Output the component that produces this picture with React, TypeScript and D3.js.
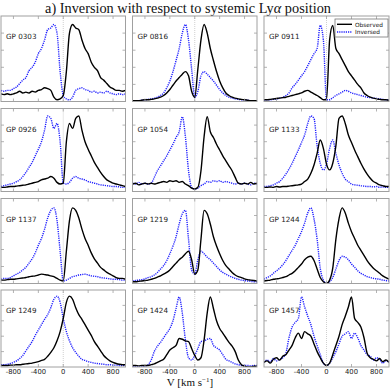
import React, { useEffect, useRef } from 'react';
import * as d3 from 'd3';

// velocity grid (km/s) shared by all profiles
const VELOCITY = [
  -1000, -950, -900, -850, -800, -750, -700, -650, -600, -550, -500, -450, -400, -350,
  -300, -250, -200, -150, -100, -50, 0, 50, 100, 150, 200, 250, 300, 350, 400, 450,
  500, 550, 600, 650, 700, 750, 800, 850, 900, 950, 1000,
];

const NAMES = [
  'GP 0303', 'GP 0816', 'GP 0911',
  'GP 0926', 'GP 1054', 'GP 1133',
  'GP 1137', 'GP 1219', 'GP 1244',
  'GP 1249', 'GP 1424', 'GP 1457',
];

// observed Lya profiles, normalised flux
const GP0303 = [0.09, 0.08, 0.09, 0.08, 0.09, 0.10, 0.12, 0.10, 0.11, 0.10, 0.12, 0.11, 0.13, 0.14, 0.16, 0.15, 0.13, 0.05, 0.02, 0.03, 0.07, 0.35, 0.80, 0.90, 0.86, 0.84, 0.72, 0.62, 0.56, 0.46, 0.40, 0.36, 0.28, 0.25, 0.21, 0.17, 0.15, 0.13, 0.13, 0.12, 0.13];
const GP0816 = [0.01, 0.01, 0.01, 0.015, 0.02, 0.02, 0.025, 0.03, 0.04, 0.05, 0.07, 0.10, 0.14, 0.19, 0.24, 0.28, 0.32, 0.35, 0.30, 0.12, 0.05, 0.38, 0.72, 0.90, 0.80, 0.62, 0.48, 0.35, 0.24, 0.16, 0.10, 0.07, 0.05, 0.04, 0.03, 0.025, 0.02, 0.015, 0.01, 0.01, 0.01];
const GP0911 = [0.02, 0.02, 0.025, 0.03, 0.035, 0.04, 0.045, 0.05, 0.06, 0.07, 0.08, 0.09, 0.10, 0.12, 0.13, 0.11, 0.09, 0.07, 0.045, 0.02, 0.02, 0.72, 0.89, 0.62, 0.56, 0.49, 0.42, 0.35, 0.30, 0.25, 0.20, 0.16, 0.10, 0.07, 0.05, 0.04, 0.03, 0.025, 0.02, 0.02, 0.015];
const GP0926 = [0.05, 0.05, 0.055, 0.06, 0.06, 0.065, 0.07, 0.075, 0.08, 0.09, 0.10, 0.11, 0.12, 0.14, 0.15, 0.16, 0.18, 0.16, 0.11, 0.09, 0.10, 0.60, 0.82, 0.76, 0.88, 0.91, 0.74, 0.60, 0.51, 0.43, 0.35, 0.29, 0.23, 0.18, 0.14, 0.12, 0.10, 0.09, 0.08, 0.07, 0.06];
const GP1054 = [0.09, 0.10, 0.08, 0.09, 0.10, 0.09, 0.10, 0.09, 0.10, 0.11, 0.12, 0.11, 0.13, 0.12, 0.13, 0.11, 0.12, 0.09, 0.07, 0.04, 0.03, 0.05, 0.25, 0.66, 0.90, 0.72, 0.65, 0.57, 0.50, 0.43, 0.37, 0.31, 0.25, 0.17, 0.10, 0.09, 0.10, 0.09, 0.11, 0.09, 0.10];
const GP1133 = [0.05, 0.05, 0.055, 0.05, 0.06, 0.055, 0.06, 0.06, 0.065, 0.07, 0.075, 0.08, 0.09, 0.12, 0.15, 0.22, 0.32, 0.46, 0.62, 0.52, 0.33, 0.26, 0.34, 0.55, 0.88, 0.91, 0.82, 0.68, 0.59, 0.50, 0.42, 0.34, 0.27, 0.21, 0.16, 0.12, 0.10, 0.08, 0.07, 0.06, 0.06];
const GP1137 = [0.04, 0.04, 0.045, 0.05, 0.05, 0.055, 0.06, 0.065, 0.07, 0.08, 0.085, 0.09, 0.10, 0.11, 0.105, 0.10, 0.09, 0.08, 0.06, 0.04, 0.03, 0.38, 0.74, 0.89, 0.86, 0.77, 0.64, 0.53, 0.45, 0.36, 0.29, 0.24, 0.19, 0.16, 0.13, 0.11, 0.09, 0.07, 0.06, 0.06, 0.05];
const GP1219 = [0.02, 0.02, 0.025, 0.03, 0.035, 0.04, 0.05, 0.06, 0.075, 0.09, 0.11, 0.13, 0.16, 0.20, 0.24, 0.28, 0.31, 0.35, 0.38, 0.28, 0.11, 0.16, 0.52, 0.86, 0.82, 0.70, 0.55, 0.44, 0.35, 0.27, 0.21, 0.17, 0.13, 0.10, 0.08, 0.07, 0.055, 0.045, 0.04, 0.035, 0.03];
const GP1244 = [0.03, 0.035, 0.04, 0.05, 0.055, 0.06, 0.07, 0.08, 0.10, 0.12, 0.15, 0.19, 0.23, 0.28, 0.31, 0.32, 0.27, 0.17, 0.07, 0.02, 0.0, 0.04, 0.18, 0.52, 0.76, 0.89, 0.83, 0.71, 0.61, 0.53, 0.45, 0.39, 0.33, 0.27, 0.22, 0.18, 0.15, 0.12, 0.09, 0.07, 0.05];
const GP1249 = [0.02, 0.02, 0.02, 0.025, 0.025, 0.03, 0.03, 0.035, 0.04, 0.045, 0.05, 0.06, 0.07, 0.085, 0.10, 0.14, 0.19, 0.25, 0.34, 0.46, 0.63, 0.84, 0.92, 0.88, 0.77, 0.68, 0.62, 0.55, 0.48, 0.41, 0.33, 0.27, 0.21, 0.15, 0.11, 0.08, 0.06, 0.045, 0.035, 0.03, 0.03];
const GP1424 = [0.02, 0.02, 0.015, 0.02, 0.02, 0.02, 0.03, 0.04, 0.06, 0.08, 0.10, 0.16, 0.22, 0.25, 0.28, 0.37, 0.36, 0.34, 0.33, 0.24, 0.15, 0.09, 0.12, 0.35, 0.70, 0.91, 0.76, 0.60, 0.50, 0.44, 0.38, 0.32, 0.27, 0.20, 0.09, 0.03, 0.01, 0.0, 0.0, 0.01, 0.01];
const GP1457 = [0.06, 0.08, 0.05, 0.10, 0.12, 0.09, 0.14, 0.16, 0.22, 0.28, 0.38, 0.44, 0.37, 0.46, 0.43, 0.40, 0.30, 0.20, 0.12, 0.05, 0.02, 0.05, 0.16, 0.28, 0.40, 0.55, 0.66, 0.78, 0.91, 0.63, 0.58, 0.52, 0.38, 0.18, 0.12, 0.10, 0.08, 0.11, 0.07, 0.09, 0.06];

const PROFILES = [
  GP0303, GP0816, GP0911,
  GP0926, GP1054, GP1133,
  GP1137, GP1219, GP1244,
  GP1249, GP1424, GP1457,
];

const X_TICKS = [-800, -400, 0, 400, 800];
const Y_TICKS = [0.2, 0.4, 0.6, 0.8];

// panel boxes (px)
const COLS = [[1, 125.5], [132.5, 257], [264, 389]];
const ROWS = [[16, 101.5], [108.5, 191.5], [198.5, 283.5], [290, 367]];

const FRAME = '#a0a0a0';
const BLUE = '#1f1fff';

function App() {
  const ref = useRef(null);

  useEffect(() => {
    const svg = d3.select(ref.current);
    svg.selectAll('*').remove();

    svg.append('rect').attr('width', 390).attr('height', 390).attr('fill', '#fff');

    const title = svg.append('text')
      .attr('x', 188).attr('y', 12.5)
      .attr('text-anchor', 'middle')
      .attr('font-family', 'Liberation Serif, serif')
      .attr('font-size', 14.3)
      .attr('fill', '#111');
    title.append('tspan').text('a) Inversion with respect to systemic Ly');
    title.append('tspan').attr('font-style', 'italic').text('α');
    title.append('tspan').text(' position');

    const line = d3.line()
      .x(d => d[0])
      .y(d => d[1])
      .curve(d3.curveMonotoneX);

    PROFILES.forEach((flux, i) => {
      const [x0, x1] = COLS[i % 3];
      const [y0, y1] = ROWS[Math.floor(i / 3)];
      const x = d3.scaleLinear().domain([-1000, 1000]).range([x0, x1]);
      const y = d3.scaleLinear().domain([0, 1]).range([y1, y0]);
      const g = svg.append('g');

      const clipId = 'clip' + i;
      g.append('clipPath').attr('id', clipId)
        .append('rect').attr('x', x0).attr('y', y0).attr('width', x1 - x0).attr('height', y1 - y0);

      // systemic zero line
      g.append('line')
        .attr('x1', x(0)).attr('x2', x(0)).attr('y1', y0).attr('y2', y1)
        .attr('stroke', '#cfcfcf').attr('stroke-width', 1).attr('stroke-dasharray', '1,1');

      const observed = VELOCITY.map((v, k) => [x(v), y(flux[k])]);
      const inversed = VELOCITY.map((v, k) => [x(-v), y(flux[k])]).reverse();

      g.append('path')
        .attr('d', line(inversed))
        .attr('clip-path', `url(#${clipId})`)
        .attr('fill', 'none').attr('stroke', BLUE)
        .attr('stroke-width', 1.4).attr('stroke-dasharray', '1.2,1');

      g.append('path')
        .attr('d', line(observed))
        .attr('clip-path', `url(#${clipId})`)
        .attr('fill', 'none').attr('stroke', '#000')
        .attr('stroke-width', 1.4);

      // frame + inward ticks
      g.append('rect')
        .attr('x', x0).attr('y', y0).attr('width', x1 - x0).attr('height', y1 - y0)
        .attr('fill', 'none').attr('stroke', FRAME).attr('stroke-width', 1);

      X_TICKS.forEach(t => {
        g.append('line').attr('x1', x(t)).attr('x2', x(t)).attr('y1', y1).attr('y2', y1 - 3)
          .attr('stroke', FRAME).attr('stroke-width', 0.8);
        g.append('line').attr('x1', x(t)).attr('x2', x(t)).attr('y1', y0).attr('y2', y0 + 3)
          .attr('stroke', FRAME).attr('stroke-width', 0.8);
      });
      Y_TICKS.forEach(t => {
        g.append('line').attr('x1', x0).attr('x2', x0 + 3).attr('y1', y(t)).attr('y2', y(t))
          .attr('stroke', FRAME).attr('stroke-width', 0.8);
        g.append('line').attr('x1', x1).attr('x2', x1 - 3).attr('y1', y(t)).attr('y2', y(t))
          .attr('stroke', FRAME).attr('stroke-width', 0.8);
      });

      g.append('text')
        .attr('x', x0 + 5).attr('y', y0 + 23)
        .attr('font-family', 'DejaVu Sans, sans-serif')
        .attr('font-size', 7.2)
        .attr('fill', '#222')
        .text(NAMES[i]);

      // tick labels only on the bottom row
      if (Math.floor(i / 3) === ROWS.length - 1) {
        X_TICKS.forEach(t => {
          g.append('text')
            .attr('x', x(t)).attr('y', y1 + 7)
            .attr('text-anchor', 'middle')
            .attr('font-family', 'DejaVu Sans, sans-serif')
            .attr('font-size', 6.8)
            .attr('fill', '#222')
            .text(t);
        });
      }
    });

    // legend in the upper right panel
    const lg = svg.append('g');
    lg.append('rect')
      .attr('x', 335).attr('y', 19).attr('width', 53).attr('height', 18)
      .attr('fill', '#fff').attr('stroke', '#777').attr('stroke-width', 0.8);
    lg.append('line').attr('x1', 337).attr('x2', 352).attr('y1', 24.3).attr('y2', 24.3)
      .attr('stroke', '#000').attr('stroke-width', 1.4);
    lg.append('line').attr('x1', 337).attr('x2', 352).attr('y1', 32).attr('y2', 32)
      .attr('stroke', BLUE).attr('stroke-width', 1.4).attr('stroke-dasharray', '1.2,1');
    [['Observed', 26.6], ['Inversed', 34.3]].forEach(([t, yy]) => {
      lg.append('text')
        .attr('x', 355).attr('y', yy)
        .attr('font-family', 'DejaVu Sans, sans-serif')
        .attr('font-size', 5.8)
        .attr('fill', '#111')
        .text(t);
    });

    const xl = svg.append('text')
      .attr('x', 190).attr('y', 386)
      .attr('text-anchor', 'middle')
      .attr('font-family', 'Liberation Serif, serif')
      .attr('font-size', 11)
      .attr('fill', '#111');
    xl.append('tspan').text('V [km s');
    xl.append('tspan').attr('font-size', 7).attr('dy', -4).text('−1');
    xl.append('tspan').attr('dy', 4).text(']');
  }, []);

  return (
    <svg ref={ref} width={390} height={390}
      style={{ position: 'absolute', left: 0, top: 0, display: 'block' }} />
  );
}

export default App;
